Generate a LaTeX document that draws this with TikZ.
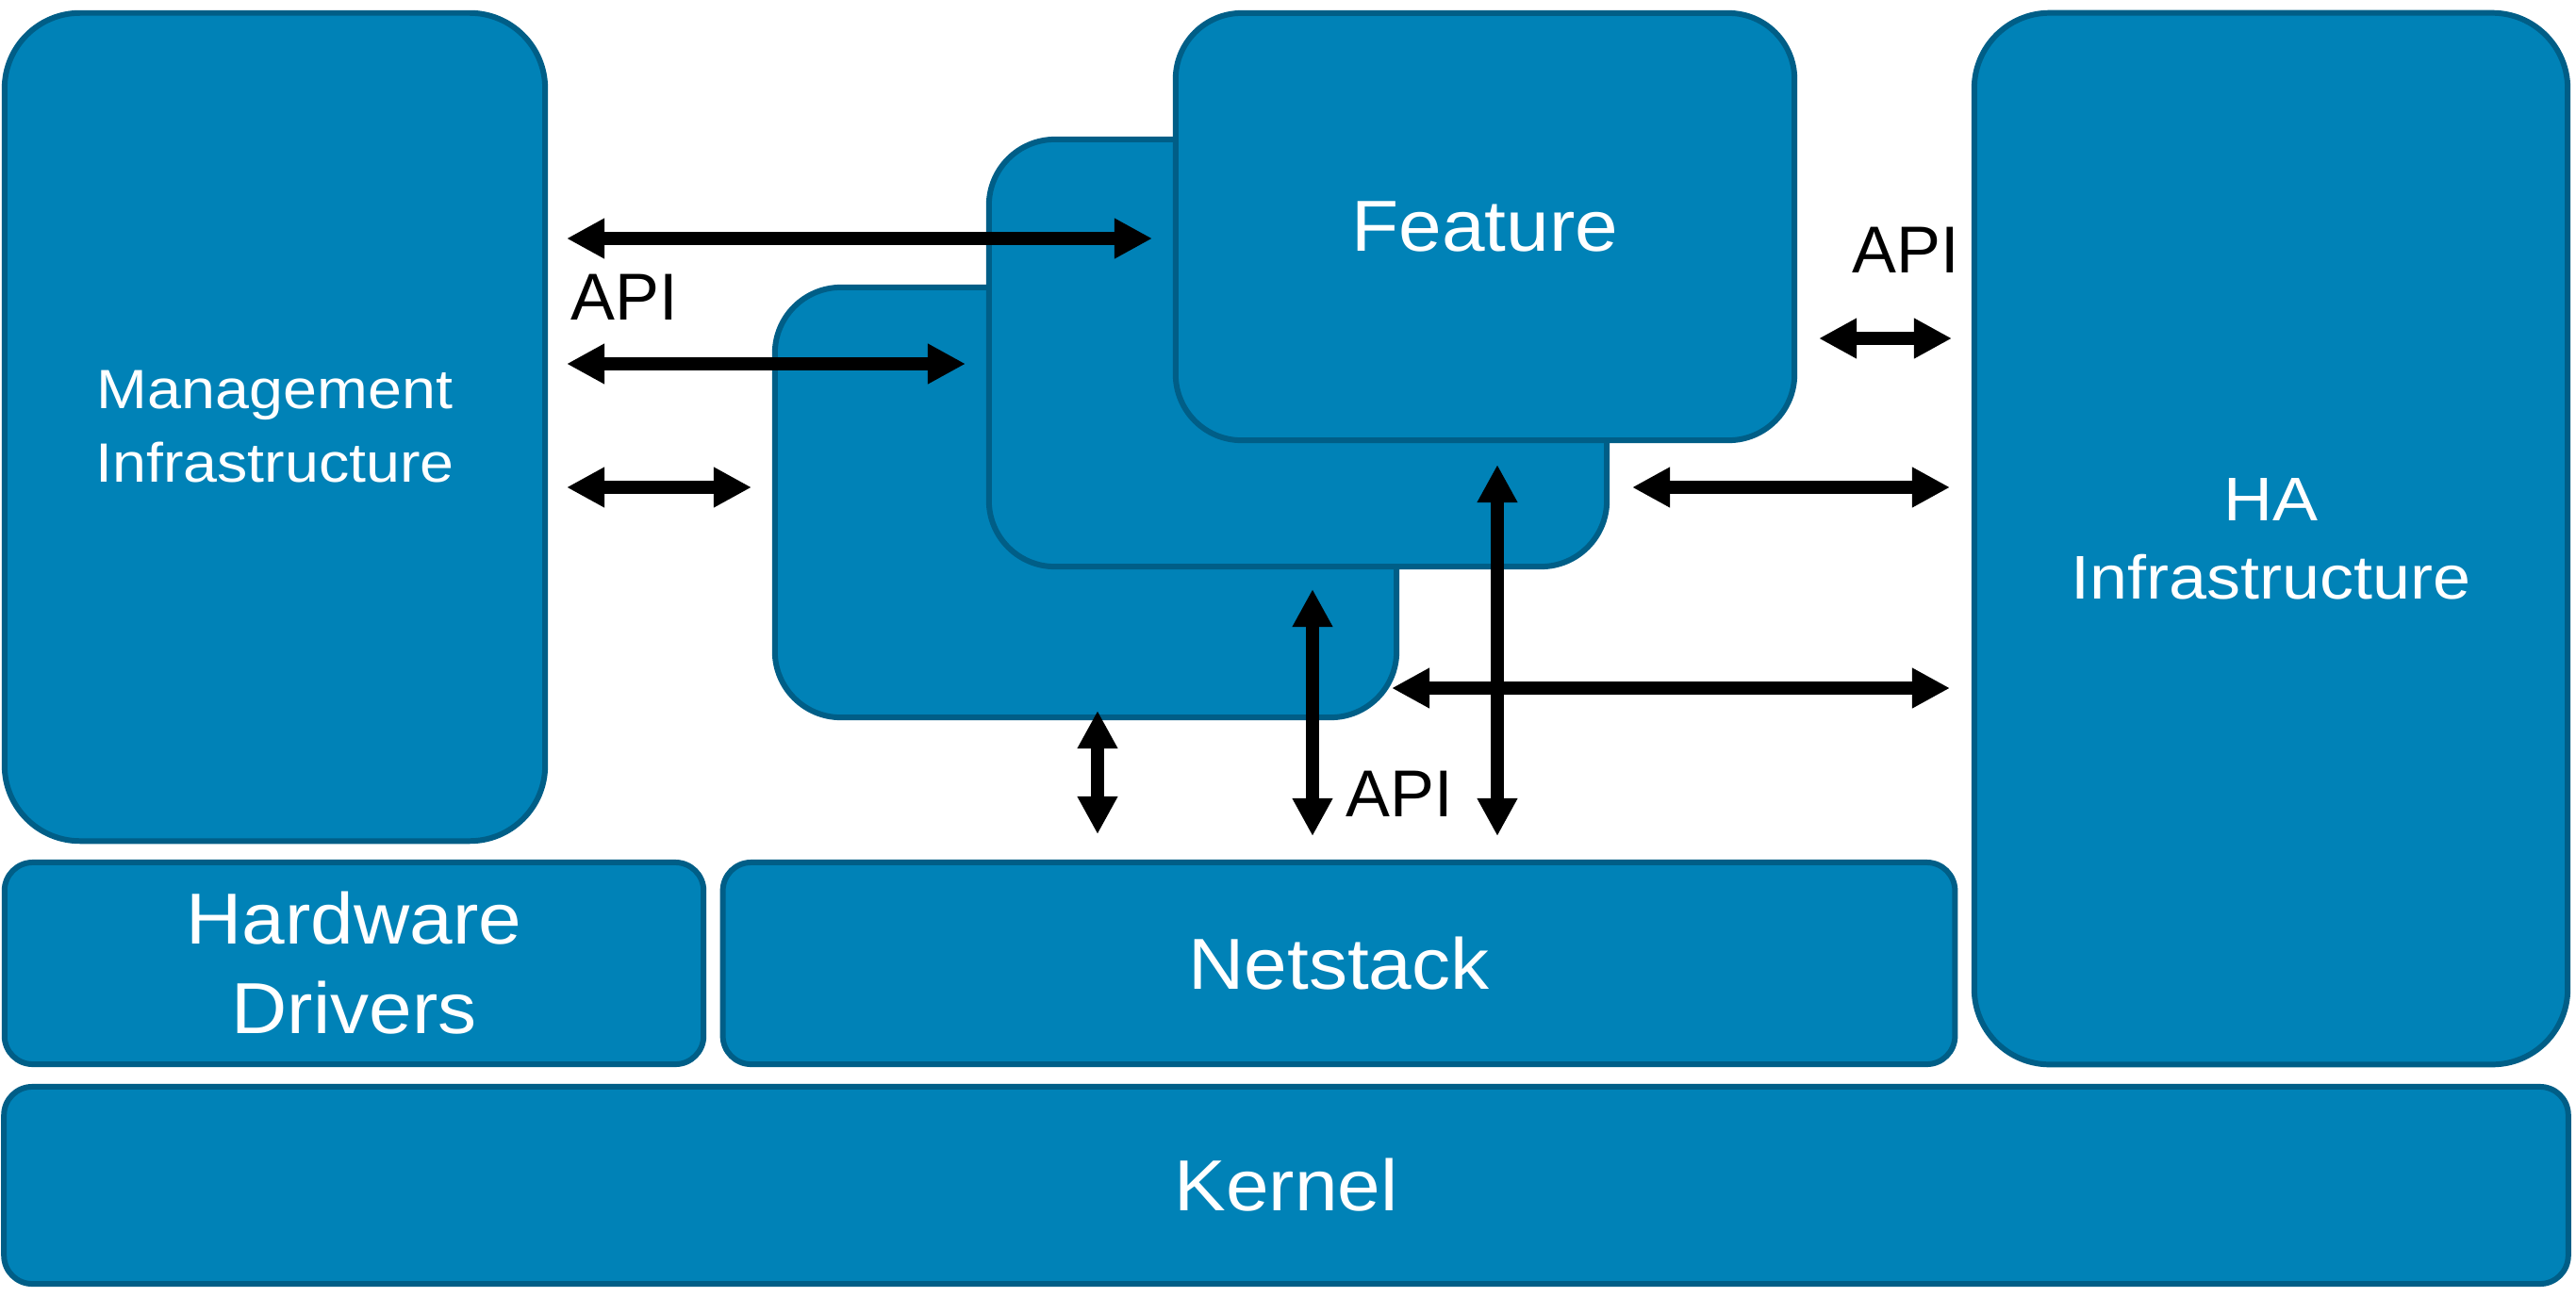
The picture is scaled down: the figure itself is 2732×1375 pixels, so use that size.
\documentclass[tikz,border=0pt]{standalone}
\usepackage{fontspec}
\setmainfont{Liberation Sans}
\newfontfamily\boxfont{Liberation Sans}[FakeStretch=1.07]
\newfontfamily\infrafont{Liberation Sans}[FakeStretch=1.1]
\usetikzlibrary{arrows.meta}
\definecolor{boxfill}{RGB}{0,130,183}
\definecolor{boxline}{RGB}{0,94,135}
\begin{document}
\begin{tikzpicture}[x=0.01cm,y=-0.01cm,
  box/.style={draw=boxline, fill=boxfill, line width=1.7pt, text=white, align=center, inner sep=0pt,
              font=\boxfont\fontsize{21.8}{27}\selectfont},
  bigbox/.style={box, rounded corners=0.8cm},
  stackbox/.style={box, rounded corners=0.7cm},
  barbox/.style={box, rounded corners=0.3cm},
  dbl/.style={line width=4pt, {Triangle[length=0.40cm,width=0.40cm]}-{Triangle[length=0.40cm,width=0.40cm]}},
  api/.style={font=\fontsize{20}{24}\selectfont, inner sep=0pt}]
\useasboundingbox[fill=white] (0,0) rectangle (2732,1375);

% large side blocks
\node[bigbox, minimum width=5.73cm, minimum height=8.78cm, font=\infrafont\fontsize{16.7}{22.2}\selectfont]
  (mgmt) at (291.5,453) {Management\\Infrastructure};
\node[bigbox, minimum width=6.29cm, minimum height=11.15cm, font=\infrafont\fontsize{18.6}{23.6}\selectfont]
  (ha) at (2408.5,571.5) {HA\\Infrastructure};

% bottom bars
\node[barbox, minimum width=7.41cm, minimum height=2.14cm] (hw) at (375.5,1022) {Hardware\\Drivers};
\node[barbox, minimum width=13.06cm, minimum height=2.14cm] (net) at (1420,1022) {Netstack};
\node[barbox, minimum width=27.18cm, minimum height=2.09cm] (kernel) at (1364,1257.5) {Kernel};

% stacked feature boxes
\node[stackbox, minimum width=6.59cm, minimum height=4.56cm] (back) at (1151.5,533) {};
\node[stackbox, minimum width=6.55cm, minimum height=4.53cm] (mid) at (1376.5,374.5) {};
\node[stackbox, minimum width=6.56cm, minimum height=4.53cm] (feat) at (1575,240.5) {Feature};

% arrow end points
\coordinate (a1l) at (601,253);  \coordinate (a1r) at (1222,253);
\coordinate (a2l) at (601,386);  \coordinate (a2r) at (1024,386);
\coordinate (a3l) at (601,517);  \coordinate (a3r) at (797,517);
\coordinate (a4l) at (1929,359); \coordinate (a4r) at (2070,359);
\coordinate (a5l) at (1731,517); \coordinate (a5r) at (2068,517);
\coordinate (a6l) at (1476,730); \coordinate (a6r) at (2068,730);
\coordinate (v7t) at (1164,754); \coordinate (v7b) at (1164,885);
\coordinate (v8t) at (1392,625); \coordinate (v8b) at (1392,887);
\coordinate (v9t) at (1588,493); \coordinate (v9b) at (1588,887);

\draw[dbl] (a1l) -- (a1r);
\draw[dbl] (a2l) -- (a2r);
\draw[dbl] (a3l) -- (a3r);
\draw[dbl] (a4l) -- (a4r);
\draw[dbl] (a5l) -- (a5r);
\draw[dbl] (a6l) -- (a6r);
\draw[dbl] (v7t) -- (v7b);
\draw[dbl] (v8t) -- (v8b);
\draw[dbl] (v9t) -- (v9b);

% API labels
\node[api] (apil) at (662,315) {API};
\node[api] (apir) at (2021,265) {API};
\node[api] (apib) at (1484,842) {API};
\end{tikzpicture}
\end{document}
